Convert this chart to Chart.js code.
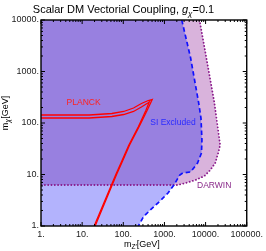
<!DOCTYPE html>
<html>
<head>
<meta charset="utf-8">
<script src="https://cdn.jsdelivr.net/npm/chart.js@4.4.1/dist/chart.umd.min.js"></script>
<style>
  html, body { margin: 0; padding: 0; background: #fff; }
</style>
</head>
<body>
<canvas id="chart" width="266" height="251"></canvas>
<script>
// axis decades
const xTicks = [1, 10, 100, 1000, 10000, 100000];
const yTicks = [1, 10, 100, 1000, 10000];

// SI excluded boundary (blue dashed), read top -> bottom
const siMZ = [2637, 4330, 5395, 6730, 7720, 8155, 7943, 6368, 4325, 2786, 2361, 1698, 1220, 829, 453, 308, 233];
const siMX = [10000, 1828, 684, 256, 125, 46.8, 26.1, 16.7, 11.2, 10.7, 9.78, 6.25, 4.37, 3.2, 2.05, 1.5, 1];

// DARWIN reach (purple dotted), ends on the flat floor
const darwinMZ = [7110, 10450, 13030, 16240, 22600, 20230, 17140, 13030, 9360, 5700, 3288, 2115, 1];
const darwinMX = [10000, 1828, 684, 256, 37.4, 26.1, 16.7, 12.2, 9.35, 7.82, 6.84, 6.25, 6.25];
const darwinFloor = 6.25;

// PLANCK relic contour, two edges of the thin band
const planckOuterMZ = [1, 14.87, 52.8, 102.2, 177.4, 275.5, 405.2, 505, 383.5, 246.9, 142.3, 91.5, 69.5, 53.7, 20.7];
const planckOuterMX = [142.9, 142.9, 152.9, 167.3, 195.6, 239.1, 273.4, 286, 178.8, 87.4, 37.4, 16.7, 10.2, 6.25, 1];
const planckInnerMZ = [1, 14.87, 52.8, 102.2, 177.4, 275.5, 394, 428, 353, 233.6, 134.7, 86.6, 65.8, 50.8, 19.6];
const planckInnerMX = [125.1, 125.1, 133.7, 146.2, 167.3, 204.5, 244.5, 255.7, 174.9, 85.5, 36.6, 16.35, 10, 6.11, 1];

const FONT = '"Liberation Sans", Arial, sans-serif';

function pts(xs, ys) {
    return xs.map((v, i) => ({ x: v, y: ys[i] }));
}

// region excluded by both = SI region cut at the DARWIN floor
const overlap = pts(siMZ, siMX).filter(p => p.y >= darwinFloor);
overlap.push({ x: 1, y: darwinFloor });

function drawRich(ctx, parts, x, y) {
    let w = 0;
    parts.forEach(p => { ctx.font = p.font; w += ctx.measureText(p.t).width; });
    let cx = x - w / 2;
    ctx.textAlign = 'left';
    ctx.textBaseline = 'alphabetic';
    parts.forEach(p => {
        ctx.font = p.font;
        ctx.fillText(p.t, cx, y + (p.dy || 0));
        cx += ctx.measureText(p.t).width;
    });
}

// frame, inward ticks on all sides, titles and region labels
const decor = {
    id: 'decor',
    afterDatasetsDraw(chart) {
        const { ctx, chartArea: a, scales: { x, y } } = chart;
        ctx.save();
        ctx.strokeStyle = '#000';
        ctx.lineWidth = 1;

        const minors = d => d.slice(0, -1).flatMap(v => [2, 3, 4, 5, 6, 7, 8, 9].map(m => v * m));
        const tick = (px, len, horiz) => {
            ctx.beginPath();
            if (horiz) {
                ctx.moveTo(px, a.bottom); ctx.lineTo(px, a.bottom - len);
                ctx.moveTo(px, a.top); ctx.lineTo(px, a.top + len);
            } else {
                ctx.moveTo(a.left, px); ctx.lineTo(a.left + len, px);
                ctx.moveTo(a.right, px); ctx.lineTo(a.right - len, px);
            }
            ctx.stroke();
        };
        xTicks.forEach(v => tick(x.getPixelForValue(v), 4, true));
        minors(xTicks).forEach(v => tick(x.getPixelForValue(v), 2, true));
        yTicks.forEach(v => tick(y.getPixelForValue(v), 4, false));
        minors(yTicks).forEach(v => tick(y.getPixelForValue(v), 2, false));

        ctx.lineWidth = 1.4;
        ctx.strokeRect(a.left, a.top, a.right - a.left, a.bottom - a.top);

        // labels inside the plot
        ctx.font = '8.5px ' + FONT;
        ctx.textAlign = 'left';
        ctx.textBaseline = 'alphabetic';
        ctx.fillStyle = '#ff2020';
        ctx.fillText('PLANCK', x.getPixelForValue(4.19), y.getPixelForValue(223.6));
        ctx.fillStyle = '#2a2aff';
        ctx.fillText('SI Excluded', x.getPixelForValue(452), y.getPixelForValue(91.4));
        ctx.fillStyle = '#8a2a8a';
        ctx.fillText('DARWIN', x.getPixelForValue(6195), y.getPixelForValue(5.47));

        // title
        ctx.fillStyle = '#000';
        drawRich(ctx, [
            { t: 'Scalar DM Vectorial Coupling, ', font: '11px ' + FONT },
            { t: 'g', font: 'italic 11px ' + FONT },
            { t: 'χ', font: 'italic 8px ' + FONT, dy: 3 },
            { t: '=0.1', font: '11px ' + FONT }
        ], 123.5, 12.5);

        // x axis title
        drawRich(ctx, [
            { t: 'm', font: '9px ' + FONT },
            { t: 'Z′', font: '6.5px ' + FONT, dy: 2 },
            { t: '[GeV]', font: '9px ' + FONT }
        ], (a.left + a.right) / 2 - 2, 246.5);

        // y axis title
        ctx.translate(8, 113);
        ctx.rotate(-Math.PI / 2);
        drawRich(ctx, [
            { t: 'm', font: '9px ' + FONT },
            { t: 'χ', font: 'italic 7px ' + FONT, dy: 2 },
            { t: '[GeV]', font: '9px ' + FONT }
        ], 0, 0);
        ctx.restore();
    }
};

const ctx = document.getElementById('chart').getContext('2d');
new Chart(ctx, {
    type: 'line',
    data: {
        datasets: [
            {   // DARWIN only (pink)
                data: pts(darwinMZ, darwinMX),
                fill: { value: 1 }, backgroundColor: '#d9b3dc', borderWidth: 0, order: 10
            },
            {   // SI only (light blue)
                data: pts(siMZ, siMX),
                fill: { value: 1 }, backgroundColor: '#b3b3fd', borderWidth: 0, order: 9
            },
            {   // both
                data: overlap,
                fill: { value: 1 }, backgroundColor: '#9880e0', borderWidth: 0, order: 8
            },
            {
                data: pts(darwinMZ, darwinMX),
                fill: false, borderColor: '#8a1a8a', borderWidth: 1.8,
                borderDash: [0.1, 3.2], borderCapStyle: 'round', order: 5
            },
            {
                data: pts(siMZ, siMX),
                fill: false, borderColor: '#1010ff', borderWidth: 1.7,
                borderDash: [4.5, 3], order: 4
            },
            {
                data: pts(planckOuterMZ, planckOuterMX),
                fill: false, borderColor: '#ff0000', borderWidth: 1.3, order: 2
            },
            {
                data: pts(planckInnerMZ, planckInnerMX),
                fill: false, borderColor: '#ff0000', borderWidth: 1.3, order: 1
            }
        ]
    },
    options: {
        responsive: false,
        animation: false,
        indexAxis: 'y',
        elements: { point: { radius: 0 }, line: { tension: 0 } },
        layout: { padding: { top: 20, right: 16, left: 0, bottom: 0 } },
        plugins: { legend: { display: false }, tooltip: { enabled: false }, title: { display: false } },
        scales: {
            x: {
                type: 'logarithmic', min: 1, max: 100000,
                grid: { display: false, drawTicks: false }, border: { display: false },
                ticks: {
                    autoSkip: false, maxRotation: 0, padding: 3, color: '#222',
                    font: { family: FONT, size: 9 },
                    callback: v => xTicks.includes(v) ? v + '.' : ''
                },
                afterFit: s => { s.height = 25; }
            },
            y: {
                type: 'logarithmic', min: 1, max: 10000,
                grid: { display: false, drawTicks: false }, border: { display: false },
                ticks: {
                    autoSkip: false, padding: 2, color: '#222',
                    font: { family: FONT, size: 9 },
                    callback: v => yTicks.includes(v) ? v + '.' : ''
                },
                afterFit: s => { s.width = 41; }
            }
        }
    },
    plugins: [decor]
});
</script>
</body>
</html>
